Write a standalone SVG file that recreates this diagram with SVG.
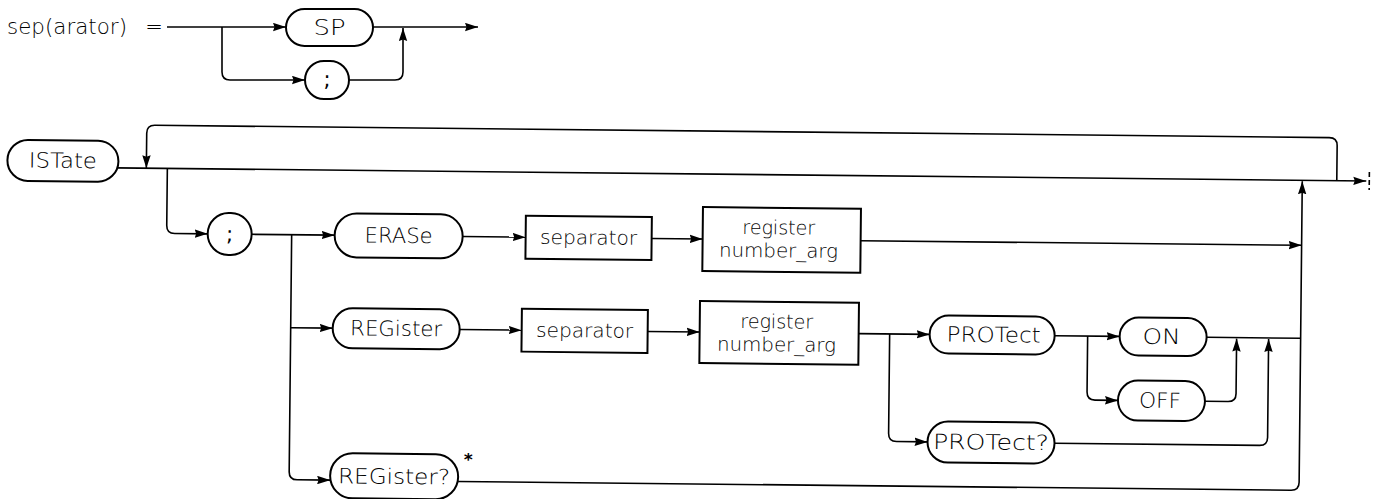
<svg xmlns="http://www.w3.org/2000/svg" width="1380" height="499" viewBox="0 0 1380 499">
<style>
.ln{fill:none;stroke:#000;stroke-width:1.6}
.ar{fill:none;stroke:#000;stroke-width:1.6;marker-end:url(#ah)}
.nd{fill:#fff;stroke:#000;stroke-width:2}
.t{font-family:"DejaVu Sans",sans-serif;font-weight:200;font-size:21px;fill:#000;text-anchor:middle;dominant-baseline:central}
.ts{font-family:"DejaVu Sans",sans-serif;font-weight:200;font-size:19.5px;fill:#000;text-anchor:middle;dominant-baseline:central}
</style>
<defs>
<marker id="ah" markerUnits="userSpaceOnUse" markerWidth="13" markerHeight="9" refX="13" refY="4.5" orient="auto">
<path d="M0,0.3 L13,4.5 L0,8.7 L1.5,4.5 z" fill="#000"/>
</marker>
</defs>
<rect width="1380" height="499" fill="#fff"/>

<g id="sep-definition">
  <text x="7" y="27" class="t" style="text-anchor:start" textLength="120" lengthAdjust="spacingAndGlyphs">sep(arator)</text>
  <text x="154" y="27" class="t">=</text>
  <g id="sep-connectors">
    <path class="ar" d="M167,27 H286"/>
    <path class="ar" d="M373,27 H478"/>
    <path class="ar" d="M222,27 V72 Q222,80 230,80 H305"/>
    <path class="ar" d="M349,80 H395 Q403,80 403,72 V28"/>
  </g>
  <g id="node-sp"><rect class="nd" x="286" y="9" width="87" height="37" rx="18.5"/><text class="t" x="329.5" y="27.5" textLength="32" lengthAdjust="spacingAndGlyphs">SP</text></g>
  <g id="node-semi-top"><rect class="nd" x="305" y="61" width="44" height="38" rx="19"/><text class="t" x="327" y="80" style="font-weight:400">;</text></g>
</g>

<g id="istate-diagram" transform="rotate(0.6 700 300)">
  <g id="connectors">
    <path class="ar" d="M115,174 H1365"/>
    <path class="ln" d="M1368,165 V183" stroke-dasharray="5,3"/>
    <path class="ar" d="M1335.5,174 V139 Q1335.5,131 1327.5,131 H153 Q145,131 145,139 V174"/>
    <path class="ar" d="M166,174 V231 Q166,239 174,239 H207"/>
    <path class="ar" d="M251,239 H334"/>
    <path class="ar" d="M291,239 V476 Q291,484 299,484 H332"/>
    <path class="ar" d="M291,332 H333"/>
    <path class="ar" d="M462,239 H525"/>
    <path class="ar" d="M651,239 H702"/>
    <path class="ar" d="M860,239 H1301"/>
    <path class="ar" d="M460,484 H1293 Q1301,484 1301,476 V175"/>
    <path class="ar" d="M460,332 H522"/>
    <path class="ar" d="M648,332 H700"/>
    <path class="ar" d="M859,332 H930"/>
    <path class="ar" d="M1055,332 H1120"/>
    <path class="ln" d="M1207,332 H1301"/>
    <path class="ar" d="M1088,332 V388 Q1088,396 1096,396 H1119"/>
    <path class="ar" d="M1206,396 H1229 Q1237,396 1237,388 V333"/>
    <path class="ar" d="M890,332 V431.5 Q890,439.5 898,439.5 H929"/>
    <path class="ar" d="M1056,439.5 H1261 Q1269,439.5 1269,431.5 V333"/>
  </g>
  <g id="node-istate"><rect class="nd" x="6" y="147" width="111" height="41" rx="20.5"/><text class="t" x="61.5" y="167.5" textLength="68" lengthAdjust="spacingAndGlyphs">ISTate</text></g>
  <g id="node-semi"><rect class="nd" x="207" y="218" width="44" height="42" rx="21"/><text class="t" x="229" y="239" style="font-weight:400">;</text></g>
  <g id="node-erase"><rect class="nd" x="334" y="217" width="128" height="44" rx="22"/><text class="t" x="398" y="239" textLength="68" lengthAdjust="spacingAndGlyphs">ERASe</text></g>
  <g id="node-sep1"><rect class="nd" x="525" y="217.5" width="126" height="43"/><text class="ts" x="588" y="239" textLength="97" lengthAdjust="spacingAndGlyphs">separator</text></g>
  <g id="node-reg1"><rect class="nd" x="702" y="207" width="158" height="64"/><text class="ts" x="778" y="227" textLength="73" lengthAdjust="spacingAndGlyphs">register</text><text class="ts" x="778" y="250" textLength="119" lengthAdjust="spacingAndGlyphs">number_arg</text></g>
  <g id="node-register"><rect class="nd" x="333" y="312" width="127" height="40" rx="20"/><text class="t" x="396.5" y="332" textLength="92" lengthAdjust="spacingAndGlyphs">REGister</text></g>
  <g id="node-sep2"><rect class="nd" x="522" y="310.5" width="126" height="43"/><text class="ts" x="585" y="332" textLength="97" lengthAdjust="spacingAndGlyphs">separator</text></g>
  <g id="node-reg2"><rect class="nd" x="700" y="301" width="159" height="62"/><text class="ts" x="777" y="321" textLength="73" lengthAdjust="spacingAndGlyphs">register</text><text class="ts" x="777" y="344" textLength="119" lengthAdjust="spacingAndGlyphs">number_arg</text></g>
  <g id="node-protect"><rect class="nd" x="930" y="313" width="125" height="38" rx="19"/><text class="t" x="994" y="332" textLength="94" lengthAdjust="spacingAndGlyphs">PROTect</text></g>
  <g id="node-on"><rect class="nd" x="1120" y="313" width="87" height="38" rx="19"/><text class="t" x="1162" y="332" textLength="38" lengthAdjust="spacingAndGlyphs">ON</text></g>
  <g id="node-off"><rect class="nd" x="1119" y="376" width="87" height="40" rx="20"/><text class="t" x="1161" y="396" textLength="42" lengthAdjust="spacingAndGlyphs">OFF</text></g>
  <g id="node-protect-q"><rect class="nd" x="929" y="419" width="127" height="41" rx="20.5"/><text class="t" x="992.5" y="439.5" textLength="116" lengthAdjust="spacingAndGlyphs">PROTect?</text></g>
  <g id="node-register-q"><rect class="nd" x="332" y="457" width="128" height="45" rx="22.5"/><text class="t" x="396" y="480" textLength="112" lengthAdjust="spacingAndGlyphs">REGister?</text><text class="t" x="470" y="462" style="font-size:17px;font-weight:700">*</text></g>
</g>
</svg>
